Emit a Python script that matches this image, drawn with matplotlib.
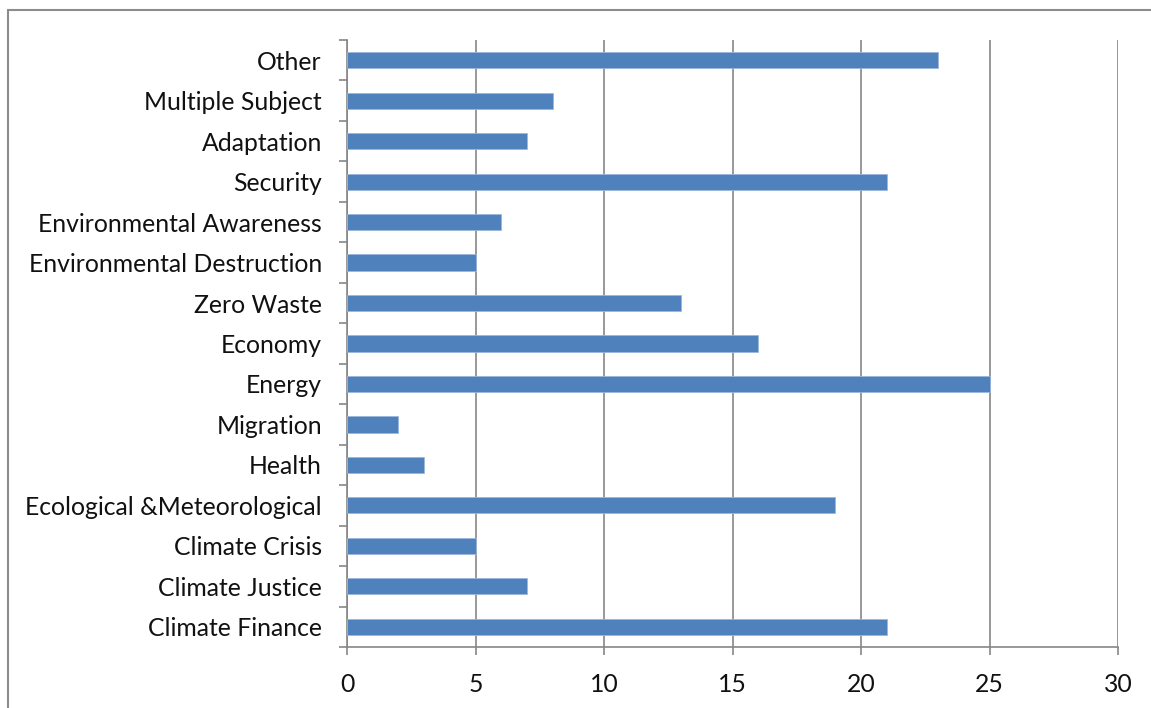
import matplotlib.pyplot as plt
from matplotlib.patches import Rectangle
import numpy as np

plt.rcParams['font.family'] = ['Lato', 'DejaVu Sans']

# categories listed bottom to top
topics = ["Climate Finance", "Climate Justice", "Climate Crisis",
          "Ecological &Meteorological", "Health", "Migration", "Energy",
          "Economy", "Zero Waste", "Environmental Destruction",
          "Environmental Awareness", "Security", "Adaptation",
          "Multiple Subject", "Other"]
counts = [21, 7, 5, 19, 3, 2, 25, 16, 13, 5, 6, 21, 7, 8, 23]
xticks = [0, 5, 10, 15, 20, 25, 30]

grey = '#868686'
bar_col = '#4F81BD'

fig = plt.figure(figsize=(11.51, 7.08), dpi=100)
ax = fig.add_axes([347/1151, 1 - 647/708, (1118 - 347)/1151, (647 - 40)/708])

pos = np.arange(len(topics))
ax.barh(pos, counts, height=0.4, color=bar_col, edgecolor='#9DB7DB',
        linewidth=0.6, zorder=3)

ax.set_xlim(0, 30)
ax.set_ylim(-0.5, len(topics) - 0.5)
ax.set_xticks(xticks)
ax.set_xticklabels([str(t) for t in xticks])
ax.set_yticks(pos)
ax.set_yticklabels(topics)
ax.set_yticks(np.arange(-0.5, len(topics)), minor=True)

ax.tick_params(axis='y', which='major', length=0, pad=18, labelsize=17.8,
               labelcolor='#111111')
ax.tick_params(axis='y', which='minor', length=6, width=1.2, color=grey)
ax.tick_params(axis='x', which='major', length=6, width=1.2, color=grey,
               pad=13, labelsize=17.8, labelcolor='#111111')

ax.grid(axis='x', color=grey, linewidth=1.2, zorder=0)
for s in ['top', 'right']:
    ax.spines[s].set_visible(False)
for s in ['left', 'bottom']:
    ax.spines[s].set_color(grey)
    ax.spines[s].set_linewidth(1.2)

# chart frame, running off the right and bottom edges
fig.patches.append(Rectangle((8/1151, -0.1), 2, 1.1 - 10/708,
                             transform=fig.transFigure, fill=False,
                             edgecolor='#8C8C8C', linewidth=1.5))

fig.savefig('out.png', dpi=100)
